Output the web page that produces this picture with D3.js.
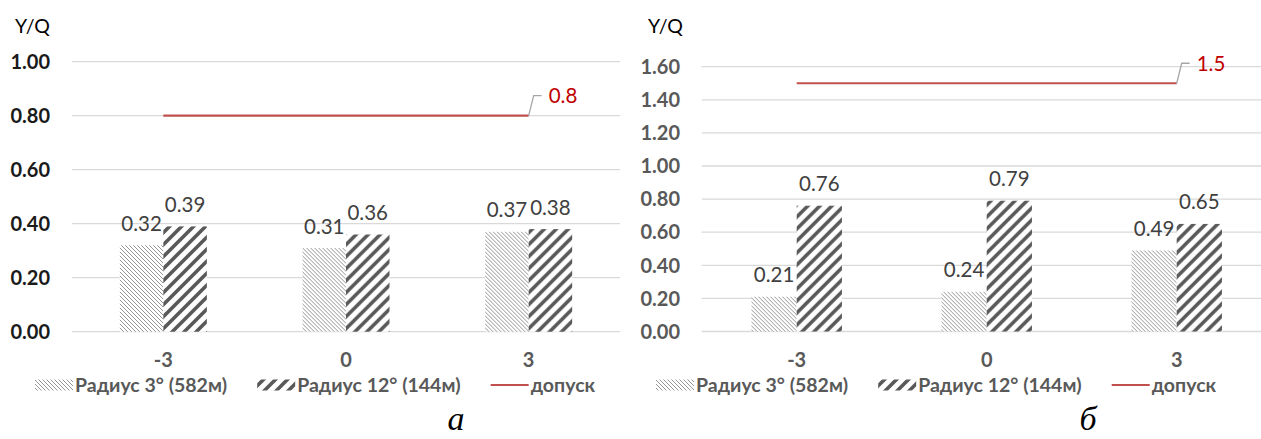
<!DOCTYPE html>
<html>
<head>
<meta charset="utf-8">
<script src="https://cdn.jsdelivr.net/npm/d3@7"></script>
<style>
  html, body { margin: 0; padding: 0; background: #fff; }
  svg { display: block; font-family: Lato, "Open Sans", sans-serif; }
</style>
</head>
<body>
<svg id="chart" width="1261" height="439"></svg>
<script>
// Load cases (deviation, mm) shared by both panels
const categories = ["-3", "0", "3"];
const seriesNames = ["Радиус 3° (582м)", "Радиус 12° (144м)", "допуск"];

// Panel "а"
const leftRadius3 = [0.32, 0.31, 0.37];
const leftRadius12 = [0.39, 0.36, 0.38];
const leftLimit = [0.8, 0.8, 0.8];
const leftTicks = [0, 0.2, 0.4, 0.6, 0.8, 1.0];
const leftLimitLabel = "0.8";

// Panel "б"
const rightRadius3 = [0.21, 0.24, 0.49];
const rightRadius12 = [0.76, 0.79, 0.65];
const rightLimit = [1.5, 1.5, 1.5];
const rightTicks = [0, 0.2, 0.4, 0.6, 0.8, 1.0, 1.2, 1.4, 1.6];
const rightLimitLabel = "1.5";

const axisTitle = "Y/Q";
const captions = ["а", "б"];

const svg = d3.select("#chart");
const defs = svg.append("defs");

// Fine downward hatch for the 3° radius series
const p1 = defs.append("pattern").attr("id", "hatchFine")
  .attr("patternUnits", "userSpaceOnUse").attr("width", 4).attr("height", 4);
p1.append("rect").attr("width", 4).attr("height", 4).attr("fill", "#fff");
p1.append("path").attr("d", "M-1,-1 L5,5 M-1,3 L1,5 M3,-1 L5,1")
  .attr("stroke", "#8a8a8a").attr("stroke-width", 0.9);

// Wide upward stripes for the 12° radius series
const p2 = defs.append("pattern").attr("id", "hatchWide")
  .attr("patternUnits", "userSpaceOnUse").attr("width", 12).attr("height", 12);
p2.append("rect").attr("width", 12).attr("height", 12).attr("fill", "#fff");
p2.append("path").attr("d", "M-3,15 L15,-3 M-9,9 L9,-9 M3,21 L21,3")
  .attr("stroke", "#595959").attr("stroke-width", 3.6);

const fills = ["url(#hatchFine)", "url(#hatchWide)"];

function drawPanel(cfg) {
  const g = svg.append("g");

  const y = d3.scaleLinear().domain([0, cfg.yMax]).range([cfg.bottom, cfg.top]);
  const x = d3.scaleBand().domain(categories).range([cfg.left, cfg.right]).padding(0);
  const xs = d3.scaleBand().domain([0, 1]).range([0, x.bandwidth()])
    .paddingInner(0).paddingOuter(1.1);

  // Gridlines
  g.append("g").selectAll("line").data(cfg.ticks).join("line")
    .attr("x1", cfg.left).attr("x2", cfg.right)
    .attr("y1", d => y(d)).attr("y2", d => y(d))
    .attr("stroke", "#d9d9d9").attr("stroke-width", 1.3);

  // Value axis labels
  g.append("g").selectAll("text").data(cfg.ticks).join("text")
    .attr("x", cfg.tickX).attr("y", d => y(d)).attr("dy", "0.36em")
    .attr("text-anchor", "end").attr("font-weight", "bold")
    .attr("font-size", 20).attr("fill", cfg.tickColor)
    .text(d => d3.format(".2f")(d));

  // Axis title
  g.append("text").attr("x", cfg.titleX).attr("y", 33)
    .attr("font-size", 19.5).attr("fill", "#000").text(axisTitle);

  // Bars
  const rows = categories.map((c, i) => ({ c, vals: [cfg.s1[i], cfg.s2[i]] }));
  const grp = g.append("g").selectAll("g").data(rows).join("g")
    .attr("transform", d => `translate(${x(d.c)},0)`);
  grp.selectAll("rect").data(d => d.vals.map((v, k) => ({ v, k }))).join("rect")
    .attr("x", d => xs(d.k)).attr("width", xs.bandwidth())
    .attr("y", d => y(d.v)).attr("height", d => y(0) - y(d.v))
    .attr("fill", d => fills[d.k]);
  grp.selectAll("text").data(d => d.vals.map((v, k) => ({ v, k }))).join("text")
    .attr("x", d => xs(d.k) + xs.bandwidth() / 2).attr("y", d => y(d.v) - 14.5)
    .attr("text-anchor", "middle").attr("font-size", 20.5).attr("fill", "#404040")
    .text(d => d3.format(".2f")(d.v));

  // Tolerance line
  const line = d3.line().x((d, i) => x(categories[i]) + x.bandwidth() / 2).y(d => y(d));
  g.append("path").datum(cfg.limit).attr("d", line)
    .attr("fill", "none").attr("stroke", "#c0504d").attr("stroke-width", 2.2);

  // Tolerance data label with leader
  const lx = x(categories[categories.length - 1]) + x.bandwidth() / 2;
  const ly = y(cfg.limit[cfg.limit.length - 1]);
  g.append("path")
    .attr("d", `M${lx},${ly} L${lx + 5},${ly - 20} L${lx + 13},${ly - 20}`)
    .attr("fill", "none").attr("stroke", "#a6a6a6").attr("stroke-width", 1.3);
  g.append("text").attr("x", lx + 20).attr("y", ly - 20).attr("dy", "0.36em")
    .attr("font-size", 20.5).attr("fill", "#c00000").text(cfg.limitLabel);

  // Category labels
  g.append("g").selectAll("text").data(categories).join("text")
    .attr("x", d => x(d) + x.bandwidth() / 2).attr("y", 367)
    .attr("text-anchor", "middle").attr("font-weight", "bold")
    .attr("font-size", 20).attr("fill", "#595959").text(d => d);

  // Legend
  const lg = g.append("g").attr("transform", `translate(${cfg.legendX},392)`);
  let cx = 0;
  seriesNames.forEach((name, i) => {
    if (i < 2) {
      lg.append("rect").attr("x", cx).attr("y", -12.5).attr("width", 38).attr("height", 11)
        .attr("fill", fills[i]);
    } else {
      lg.append("line").attr("x1", cx).attr("x2", cx + 38).attr("y1", -7).attr("y2", -7)
        .attr("stroke", "#c0504d").attr("stroke-width", 2.2);
    }
    cx += 40;
    const t = lg.append("text").attr("x", cx).attr("y", 0)
      .attr("font-weight", "bold").attr("font-size", 19.5).attr("fill", "#595959").text(name);
    cx += t.node().getComputedTextLength() + 30;
  });

  // Panel caption
  svg.append("text").attr("x", cfg.captionX).attr("y", 430)
    .attr("text-anchor", "middle").attr("font-family", "'Liberation Serif', 'Times New Roman', serif")
    .attr("font-style", "italic").attr("font-size", 34).attr("fill", "#000").text(cfg.caption);
}

drawPanel({
  left: 72, right: 620, top: 61.7, bottom: 331.7, yMax: 1.0,
  ticks: leftTicks, tickX: 50, tickColor: "#1a1a1a", titleX: 15,
  s1: leftRadius3, s2: leftRadius12, limit: leftLimit, limitLabel: leftLimitLabel,
  legendX: 35, caption: captions[0], captionX: 456
});

drawPanel({
  left: 701.7, right: 1271.7, top: 66.7, bottom: 331.5, yMax: 1.6,
  ticks: rightTicks, tickX: 680, tickColor: "#595959", titleX: 648,
  s1: rightRadius3, s2: rightRadius12, limit: rightLimit, limitLabel: rightLimitLabel,
  legendX: 656, caption: captions[1], captionX: 1088
});
</script>
</body>
</html>
